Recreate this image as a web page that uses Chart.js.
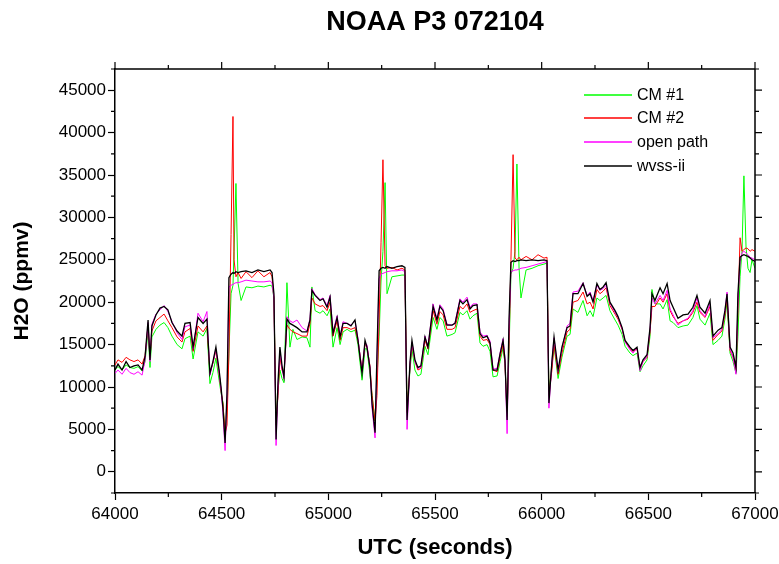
<!DOCTYPE html>
<html>
<head>
<meta charset="utf-8">
<script src="https://cdn.jsdelivr.net/npm/chart.js@4.4.0/dist/chart.umd.min.js"></script>
<style>
  html, body { margin: 0; padding: 0; background: #fff; }
  #wrap { width: 779px; height: 564px; }
</style>
</head>
<body>
<div id="wrap"><canvas id="h2oChart" width="779" height="564"></canvas></div>
<script>
// UTC seconds (shared time base for every instrument)
const utc = [
  64000, 64014, 64033, 64052, 64070, 64089, 64108, 64127, 64141, 64155, 64164, 64173, 64192, 64211, 64230, 64248,
  64267, 64291, 64314, 64328, 64352, 64366, 64389, 64413, 64431, 64445, 64459, 64473, 64488, 64497, 64506, 64516,
  64525, 64534,
  64544, 64553, 64558, 64567, 64577, 64591, 64614, 64642, 64670, 64698, 64727, 64736, 64745,
  64755, 64764, 64773, 64783, 64792, 64806, 64820, 64834, 64853, 64877, 64900, 64914, 64923, 64938, 64961, 64975,
  64994, 65008, 65022, 65041, 65055, 65069, 65088, 65106, 65125, 65139, 65158, 65172, 65181, 65195, 65205, 65219,
  65228, 65238, 65247, 65256, 65266, 65275, 65298, 65322, 65345, 65359,
  65369, 65383, 65392, 65406, 65420, 65434, 65453, 65467, 65491, 65509, 65523, 65538, 65556, 65580, 65594, 65617,
  65631, 65650, 65664, 65678, 65697, 65711, 65725, 65744, 65758, 65772, 65791, 65805, 65819, 65828, 65838,
  65847, 65856, 65866, 65875, 65884, 65894, 65903, 65927, 65955, 65983, 66011, 66025,
  66034, 66048, 66058, 66077, 66095, 66119, 66133, 66147, 66170, 66194, 66213, 66227, 66241, 66259, 66273, 66288,
  66302, 66320, 66344, 66358, 66377, 66391, 66414, 66428, 66447, 66461, 66475, 66494, 66508, 66517, 66531, 66555,
  66569, 66588, 66602, 66616, 66639, 66663, 66686, 66709, 66728, 66742, 66766, 66789, 66803, 66827, 66845, 66859,
  66869, 66883, 66897, 66911, 66920, 66930, 66939, 66948, 66958, 66967, 66977, 66986, 67000
];

// wvss-ii (black)
const wvss = [
  12000, 12700, 12000, 13000, 12300, 12500, 12600, 12000, 13600, 17900, 13200, 17200, 18500, 19300, 19500, 19100,
  17600, 16600, 16000, 17500, 17600, 14700, 18200, 17500, 18000, 11600, 13000, 14700, 12000, 10000, 7500, 3400,
  9300, 22900,
  23300, 23500, 23400, 23600, 23500, 23600, 23700, 23500, 23800, 23600, 23800, 23500, 21000,
  3800, 10500, 14700, 12500, 11200, 18000, 17500, 17300, 17000, 16500, 16500, 17900, 21400, 20800, 20200, 20400,
  19400, 20600, 16300, 18200, 15900, 17500, 17500, 17200, 17900, 15500, 11600, 15500, 14700, 12300, 8000, 4600,
  14000, 23700, 24000, 24100, 24000, 24200, 24000, 24200, 24300, 24100,
  6100, 13000, 15500, 13200, 12300, 12500, 15900, 14700, 19500, 17900, 19500, 19000, 17300, 17300, 17500, 20200,
  19800, 20300, 19200, 19600, 19700, 16300, 15800, 16000, 15200, 12000, 12000, 13900, 15500, 13200, 6100,
  18000, 24700, 24900, 24800, 24900, 24900, 25000, 24900, 25000, 24900, 25000, 24900,
  8100, 13000, 15900, 12000, 14700, 17000, 17200, 21000, 21000, 22200, 20700, 21000, 20000, 22200, 21500, 21800,
  22300, 20000, 19000, 18300, 17000, 15500, 14700, 14300, 14700, 12300, 13200, 13800, 17000, 21000, 20200, 21700,
  21000, 22200, 20200, 19400, 18100, 18500, 18600, 19400, 20800, 19400, 18700, 20200, 16000, 16700, 17000, 19000,
  21000, 14700, 14000, 12300, 21000, 25300, 25500, 25600, 25500, 25400, 25200, 25000, 24800
];

// CM #2 (red)
const cm2 = [
  12600, 13200, 12900, 13500, 13200, 13000, 13200, 12700, 13700, 17300, 13400, 16600, 17800, 18200, 18600, 17800,
  17000, 15900, 15300, 16500, 16900, 14200, 17200, 16500, 17200, 11700, 12800, 14300, 11600, 9600, 8000, 4500,
  5500, 14000,
  28000, 41900, 25000, 23000, 23500, 22800, 23600, 22900, 23700, 23000, 23500, 23000, 20500,
  5500, 9000, 13500, 12000, 11500, 17300, 16800, 16500, 16300, 16000, 16000, 17500, 20500, 19800, 19500, 19600,
  19000, 20000, 16000, 17800, 15500, 17000, 17000, 16800, 17000, 15500, 12000, 15000, 14800, 12500, 9000, 6000,
  9000, 18000, 27000, 36800, 24300, 24000, 24100, 23800, 24000, 23800,
  7000, 12500, 15000, 13000, 12000, 12200, 15500, 14500, 19000, 17400, 18900, 18500, 16800, 16800, 17000, 19500,
  19200, 19800, 18800, 19000, 19200, 16000, 15500, 15600, 15000, 12000, 11800, 13500, 15000, 12800, 6500,
  15000, 25000, 37400, 25200, 25000, 25300, 25000, 25400, 25000, 25600, 25200, 25300,
  9000, 12000, 15000, 11500, 14000, 16500, 16800, 20000, 20200, 21200, 19800, 20000, 19200, 21500, 21000, 21300,
  21700, 19600, 18600, 18000, 16800, 15400, 14500, 14200, 14500, 12200, 13000, 13500, 16500, 19500, 19500, 20500,
  20000, 21000, 19000, 18300, 17500, 17800, 18000, 18800, 20000, 18800, 18200, 19500, 15500, 16200, 16600, 18500,
  20500, 14300, 13500, 12000, 19000, 27600, 26000, 26200, 26400, 26300, 26000, 26200, 26000
];

// open path (magenta)
const openPath = [
  11600, 12000, 11500, 12200, 11700, 11500, 11800, 11400, 13200, 17600, 13000, 17400, 18600, 19100, 19600, 18900,
  17700, 16400, 15600, 17100, 17300, 14500, 18700, 17700, 18900, 11400, 12900, 14500, 11700, 9700, 7000, 2500,
  9000, 21800,
  22000, 22100, 22200, 22300, 22300, 22400, 22600, 22500, 22400, 22400, 22500, 22300, 20500,
  3100, 10000, 14300, 12200, 11000, 18300, 17800, 17600, 17900, 17000, 16600, 18000, 21600, 20900, 20300, 20500,
  19600, 20800, 16500, 18400, 16000, 17700, 17500, 17300, 17800, 15700, 11800, 15200, 15000, 12300, 7500, 4000,
  13000, 22800, 23300, 23400, 23500, 23600, 23700, 23700, 23800, 23600,
  5000, 12800, 15300, 13000, 12200, 12300, 16000, 14700, 19800, 18000, 19700, 19200, 17400, 17300, 17600, 20400,
  20000, 20600, 19400, 19800, 19800, 16500, 16000, 16100, 15400, 12100, 12200, 14000, 15700, 13400, 4500,
  17000, 23600, 23700, 23800, 23800, 23900, 24000, 24100, 24300, 24500, 24700, 24800,
  7500, 13000, 15800, 11800, 14500, 17200, 17500, 21200, 21300, 22300, 20800, 21200, 20200, 22000, 21400, 21600,
  22000, 19900, 18800, 18200, 16900, 15300, 14400, 14000, 14600, 11900, 13000, 13600, 16800, 20500, 19800, 20800,
  20200, 21400, 19200, 18500, 17300, 17800, 18100, 19000, 20500, 19000, 18300, 19800, 15800, 16300, 16800, 18900,
  21200, 14500, 13500, 11500, 20000, 24800, 25800, 26000, 25800, 25600, 25300, 25200, 25000
];

// CM #1 (green)
const cm1 = [
  12100, 12400, 12000, 12600, 12300, 12200, 12400, 11900, 13000, 16600, 12300, 15900, 16800, 17300, 17600, 17000,
  16000, 15000, 14500, 15700, 16000, 13300, 16500, 16000, 16900, 10400, 11700, 13400, 10800, 9300, 8200, 4200,
  7000, 14000,
  21000, 22000, 26000, 34000, 22200, 20200, 21800, 21700, 21900, 21800, 22000, 21900, 20500,
  5500, 9500, 12000, 11000, 10500, 22300, 14700, 16800, 15600, 15900, 15800, 14700, 21800, 19000, 18700, 19000,
  18400, 19200, 14700, 17000, 15000, 16500, 16800, 16500, 16700, 15000, 10800, 14500, 14500, 11500, 9000, 6000,
  11000, 16000, 22500, 26000, 34100, 21000, 23000, 23100, 23200, 23200,
  7500, 12000, 14500, 12000, 11300, 11500, 14800, 13800, 18200, 16800, 18200, 17800, 16000, 16200, 16400, 18800,
  18500, 19000, 18000, 18400, 18700, 15200, 14800, 15000, 14200, 11200, 11300, 13000, 14600, 12800, 7000,
  14000, 23300, 24000, 26000, 36300, 24000, 20500, 23800, 24000, 24300, 24500, 24600,
  9500, 12500, 14800, 11000, 13500, 16000, 16200, 19200, 18800, 20200, 18400, 19000, 18300, 20500, 20200, 20500,
  20800, 19000, 17900, 17300, 16200, 14800, 14000, 13700, 14000, 11800, 12500, 13200, 16000, 21500, 19800, 19800,
  19200, 20300, 17800, 17600, 17000, 17200, 17300, 18200, 19600, 18000, 17300, 18700, 15000, 15500, 16000, 18000,
  20000, 14000, 13000, 11600, 16000, 23000, 26000, 34900, 26500, 24000, 23500, 25000, 24000
];

const seriesNames = ['CM #1', 'CM #2', 'open path', 'wvss-ii'];
const seriesColors = ['#00ff00', '#ff0000', '#ff00ff', '#000000'];
const seriesValues = [cm1, cm2, openPath, wvss];
const drawOrder = [4, 3, 2, 1];

function toPoints(values) {
  return utc.map((t, i) => ({ x: t, y: values[i] }));
}

const datasets = seriesNames.map((name, k) => ({
  label: name,
  data: toPoints(seriesValues[k]),
  borderColor: seriesColors[k],
  backgroundColor: seriesColors[k],
  borderWidth: k === 3 ? 1.3 : 1,
  pointRadius: 0,
  tension: 0,
  order: drawOrder[k]
}));

const FONT = '"Liberation Sans", Arial, sans-serif';

// frame on top/right, minor ticks, title and legend
const framePlugin = {
  id: 'frame',
  afterDraw(chart) {
    const ctx = chart.ctx;
    const a = chart.chartArea;
    const xs = chart.scales.x, ys = chart.scales.y;
    ctx.save();
    ctx.strokeStyle = '#000';
    ctx.lineWidth = 1.5;
    ctx.beginPath();
    ctx.moveTo(a.left, a.top); ctx.lineTo(a.right, a.top);
    ctx.moveTo(a.right, a.top); ctx.lineTo(a.right, a.bottom);
    ctx.stroke();

    ctx.lineWidth = 1.2;
    ctx.beginPath();
    for (let v = 64000; v <= 67000; v += 250) {
      const px = xs.getPixelForValue(v);
      const len = (v % 500 === 0) ? 7 : 4;
      ctx.moveTo(px, a.top); ctx.lineTo(px, a.top - len);
      if (v % 500 !== 0) { ctx.moveTo(px, a.bottom); ctx.lineTo(px, a.bottom + len); }
    }
    for (let v = -2500; v <= 47500; v += 2500) {
      const py = ys.getPixelForValue(v);
      const major = (v % 5000 === 0);
      const len = major ? 7 : 4;
      ctx.moveTo(a.right, py); ctx.lineTo(a.right + len, py);
      if (!major) { ctx.moveTo(a.left, py); ctx.lineTo(a.left - len, py); }
    }
    ctx.stroke();

    ctx.fillStyle = '#000';
    ctx.font = 'bold 27px ' + FONT;
    ctx.textAlign = 'center';
    ctx.textBaseline = 'middle';
    ctx.fillText('NOAA P3 072104', (a.left + a.right) / 2, 23);

    ctx.font = '16px ' + FONT;
    ctx.textAlign = 'left';
    const rowY = [95, 118, 142, 166];
    seriesNames.forEach((name, k) => {
      ctx.strokeStyle = seriesColors[k];
      ctx.lineWidth = 1.5;
      ctx.beginPath();
      ctx.moveTo(584, rowY[k]); ctx.lineTo(632, rowY[k]);
      ctx.stroke();
      ctx.fillText(name, 637, rowY[k] + 1);
    });
    ctx.restore();
  }
};

new Chart(document.getElementById('h2oChart'), {
  type: 'line',
  data: { datasets: datasets },
  options: {
    responsive: false,
    animation: false,
    devicePixelRatio: 1,
    layout: { padding: { top: 69, right: 24, left: 0, bottom: 0 } },
    plugins: { legend: { display: false }, tooltip: { enabled: false }, title: { display: false } },
    scales: {
      x: {
        type: 'linear',
        min: 64000,
        max: 67000,
        afterFit: (s) => { s.height = 71; s.paddingLeft = 0; s.paddingRight = 0; },
        ticks: { stepSize: 500, color: '#000', padding: 4, maxRotation: 0, autoSkip: false,
                 callback: (v) => String(v),
                 font: { size: 17, family: FONT } },
        grid: { drawOnChartArea: false, drawTicks: true, tickLength: 7, tickColor: '#000', tickWidth: 1.2 },
        border: { display: true, color: '#000', width: 1.5 },
        title: { display: true, text: 'UTC (seconds)', color: '#000', padding: { bottom: 3 },
                 font: { size: 22, weight: 'bold', family: FONT } }
      },
      y: {
        type: 'linear',
        min: -2500,
        max: 47500,
        afterFit: (s) => { s.width = 115; s.paddingTop = 0; s.paddingBottom = 0; },
        ticks: { stepSize: 2500, maxTicksLimit: 40, autoSkip: false, color: '#000', padding: 2,
                 callback: (v) => (Math.round(v) % 5000 === 0 ? String(v) : ''),
                 font: { size: 17, family: FONT } },
        grid: { drawOnChartArea: false, drawTicks: true, tickLength: 7, tickWidth: 1.2,
                tickColor: (c) => (c.tick && Math.round(c.tick.value) % 5000 === 0 ? '#000' : 'rgba(0,0,0,0)') },
        border: { display: true, color: '#000', width: 1.5 },
        title: { display: true, text: 'H2O (ppmv)', color: '#000', padding: { top: 10 },
                 font: { size: 21, weight: 'bold', family: FONT } }
      }
    }
  },
  plugins: [framePlugin]
});
</script>
</body>
</html>
